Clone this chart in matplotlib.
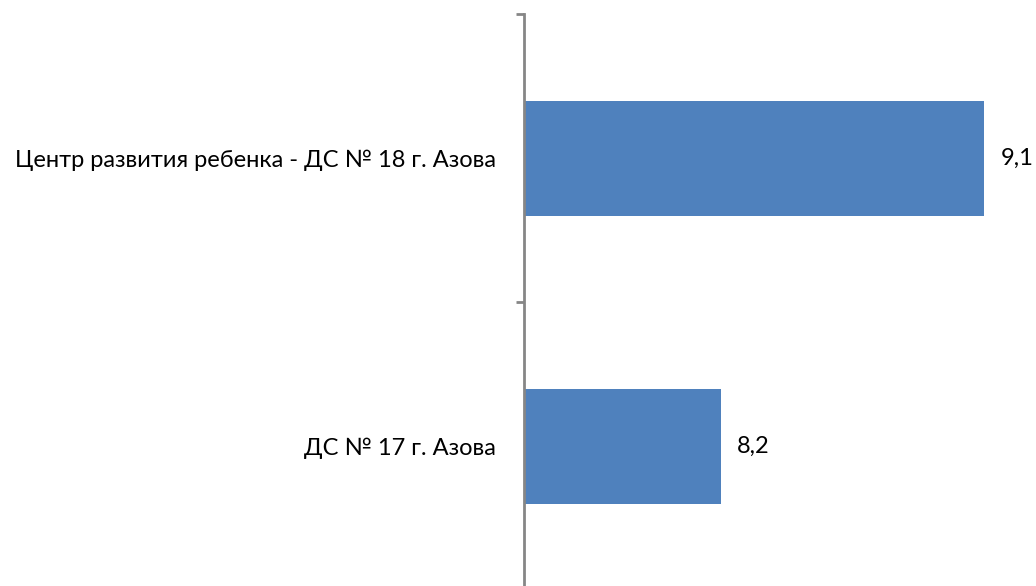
import matplotlib
matplotlib.use("Agg")
import matplotlib.pyplot as plt

categories = ["ДС № 17 г. Азова", "Центр развития ребенка - ДС № 18 г. Азова"]
values = [8.2, 9.1]
value_labels = ["8,2", "9,1"]

W, H = 1036, 586
fig = plt.figure(figsize=(W / 100, H / 100), dpi=100)
ax_left, ax_right = 524, 1000
ax_top, ax_bottom = 14.5, 590
ax = fig.add_axes([ax_left / W, 1 - ax_bottom / H, (ax_right - ax_left) / W, (ax_bottom - ax_top) / H])

font = "Lato"
fs = 17
bars = ax.barh(range(len(categories)), values, height=0.4, color="#4F81BD", left=0)
ax.set_xlim(7.53, 7.53 + (ax_right - ax_left) / 293.3)
ax.set_ylim(-0.5, 1.5)

for i, (v, lab) in enumerate(zip(values, value_labels)):
    ax.annotate(lab, xy=(v, i), xytext=(12, 0), textcoords="offset points",
                va="center", ha="left", fontsize=fs, family=font, color="#000000")

ax.set_yticks([-0.5, 0.5, 1.5])
ax.set_yticklabels([])
ax.set_yticks([0, 1], minor=True)
ax.set_yticklabels(categories, minor=True, fontsize=fs, family=font)
ax.tick_params(axis="y", which="major", length=6, width=2, color="#868686", direction="out")
ax.tick_params(axis="y", which="minor", length=0, pad=20)
ax.set_xticks([])
for s in ["top", "right", "bottom"]:
    ax.spines[s].set_visible(False)
ax.spines["left"].set_color("#868686")
ax.spines["left"].set_linewidth(2)

fig.savefig("out.png", dpi=100)
